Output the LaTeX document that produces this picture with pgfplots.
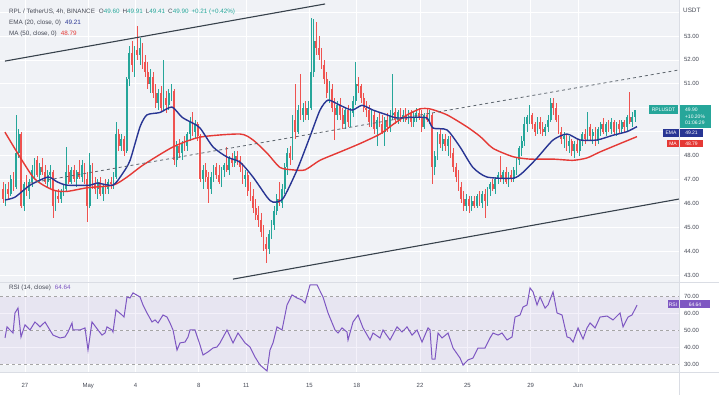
\documentclass[border=0pt]{standalone}
\usepackage{pgfplots}
\usepackage{pgfplotstable}
\pgfplotsset{compat=1.18}
\usepackage{fontspec}
\setmainfont{Liberation Sans}
\definecolor{upc}{RGB}{38,166,154}
\definecolor{dnc}{RGB}{239,83,80}
\definecolor{emac}{RGB}{40,53,147}
\definecolor{mac}{RGB}{229,57,53}
\definecolor{rsic}{RGB}{126,87,194}
\definecolor{bgc}{RGB}{240,242,246}
\definecolor{txtc}{RGB}{70,74,86}
\definecolor{sepc}{RGB}{218,221,228}
\definecolor{chanc}{RGB}{55,65,75}

\pgfplotstableread{
o h l c
46.6 46.9 46.0 46.2
46.2 46.8 45.9 46.6
46.6 46.9 46.2 46.4
46.4 47.2 46.3 47.0
47.0 47.3 46.5 46.7
46.7 49.7 46.6 48.1
48.1 49.1 47.9 48.9
48.9 49.0 45.8 45.9
45.9 46.9 45.7 46.8
46.8 47.2 46.3 46.5
46.5 47.0 46.2 46.9
46.9 47.6 46.7 47.4
47.4 47.9 47.0 47.8
47.8 48.0 47.1 47.2
47.2 47.7 46.9 47.5
47.5 47.9 47.2 47.3
47.3 47.6 46.8 46.9
46.9 47.4 46.7 47.2
47.2 47.6 46.6 47.3
47.3 47.4 45.4 45.9
45.9 46.5 45.7 46.3
46.3 46.6 46.0 46.2
46.2 46.6 46.0 46.5
46.5 46.8 46.3 46.6
46.6 48.35 46.5 47.3
47.3 47.6 46.8 46.9
46.9 47.5 46.8 47.4
47.4 47.6 46.9 47.0
47.0 47.4 46.7 47.3
47.3 47.8 47.0 47.1
47.1 47.8 46.9 47.6
47.6 47.7 46.8 47.0
47.0 47.3 45.2 45.9
45.9 48.1 45.8 47.6
47.6 47.7 46.6 46.8
46.8 47.1 46.4 46.6
46.6 47.0 46.2 46.9
46.9 47.1 46.3 46.4
46.4 46.8 46.1 46.7
46.7 47.0 46.4 46.6
46.6 47.0 46.4 46.9
46.9 47.1 46.6 46.8
46.8 47.3 46.6 47.1
47.1 49.4 47.0 48.9
48.9 49.1 48.2 48.4
48.4 48.9 48.2 48.7
48.7 48.8 48.0 48.2
48.2 51.3 48.1 51.2
51.2 52.6 50.9 52.3
52.3 52.8 51.5 51.8
51.8 52.6 51.3 52.4
52.4 53.4 52.0 52.2
52.2 52.9 51.8 52.5
52.5 52.7 51.6 51.9
51.9 52.2 51.3 51.5
51.5 51.9 50.8 51.0
51.0 51.6 50.6 51.3
51.3 51.5 50.4 50.6
50.6 51.0 50.0 50.2
50.2 50.8 49.9 50.6
50.6 50.9 49.8 50.0
50.0 52.0 49.9 50.4
50.4 50.7 49.8 50.1
50.1 50.8 49.9 50.6
50.6 51.0 50.3 50.7
50.7 50.8 47.6 47.8
47.8 48.6 47.5 48.4
48.4 48.7 47.9 48.1
48.1 48.6 47.8 48.5
48.5 48.8 48.2 48.4
48.4 49.0 48.2 48.9
48.9 49.6 48.6 49.4
49.4 49.8 48.8 49.0
49.0 49.5 48.7 49.3
49.3 49.4 48.6 48.8
48.8 48.9 46.9 47.0
47.0 47.6 46.6 47.4
47.4 47.7 46.9 47.1
47.1 47.3 46.0 46.6
46.6 47.3 46.4 47.1
47.1 47.6 46.9 47.5
47.5 47.7 47.0 47.2
47.2 47.6 46.8 46.9
46.9 47.5 46.7 47.4
47.4 47.7 47.1 47.6
47.6 48.35 47.3 47.4
47.4 48.0 47.2 47.9
47.9 48.1 47.5 47.7
47.7 48.2 47.5 48.0
48.0 48.2 47.6 47.8
47.8 48.0 47.3 47.5
47.5 47.7 46.8 47.0
47.0 47.4 46.7 47.2
47.2 47.3 46.3 46.5
46.5 46.9 46.1 46.3
46.3 46.6 45.6 45.8
45.8 46.2 45.3 45.5
45.5 45.9 45.0 45.3
45.3 45.6 44.6 44.8
44.8 45.1 44.0 44.3
44.3 44.6 43.5 44.1
44.1 44.9 43.9 44.7
44.7 45.3 44.5 45.1
45.1 45.9 44.9 45.7
45.7 46.4 45.5 46.2
46.2 46.9 45.9 46.0
46.0 46.8 45.8 46.6
46.6 47.7 46.4 47.5
47.5 48.3 47.2 48.1
48.1 48.4 47.6 47.9
47.9 49.7 47.8 49.5
49.5 51.0 48.7 49.0
49.0 50.1 48.9 49.9
49.9 51.4 49.5 49.7
49.7 50.2 49.4 50.0
50.0 50.3 49.5 49.7
49.7 50.3 49.5 50.0
50.0 53.75 49.9 51.5
51.5 53.7 51.3 52.8
52.8 53.6 52.2 52.5
52.5 53.0 52.0 52.2
52.2 52.5 51.6 51.8
51.8 52.0 51.0 51.2
51.2 51.5 50.4 50.6
50.6 51.1 50.2 50.8
50.8 51.0 49.8 50.0
50.0 50.4 48.65 49.7
49.7 50.3 49.5 50.1
50.1 50.4 49.5 49.7
49.7 50.0 49.1 49.3
49.3 50.0 49.1 49.9
49.9 50.1 49.2 49.4
49.4 50.0 49.2 49.8
49.8 50.5 49.6 50.3
50.3 51.9 50.1 51.0
51.0 51.3 50.6 50.9
50.9 51.0 50.2 50.4
50.4 50.6 49.8 50.0
50.0 50.3 49.6 49.9
49.9 50.1 49.2 49.4
49.4 49.9 49.2 49.7
49.7 49.9 48.9 49.1
49.1 49.6 48.4 49.5
49.5 49.8 49.2 49.3
49.3 49.7 48.9 49.0
49.0 49.6 48.4 49.5
49.5 49.8 49.0 49.2
49.2 49.9 49.0 49.7
49.7 51.4 49.5 49.8
49.8 50.0 49.3 49.5
49.5 49.9 49.3 49.8
49.8 50.0 49.4 49.6
49.6 49.9 49.4 49.7
49.7 50.0 49.4 49.5
49.5 49.9 49.3 49.8
49.8 49.9 49.2 49.4
49.4 49.8 49.2 49.6
49.6 50.0 49.4 49.8
49.8 50.0 49.5 49.6
49.6 49.9 49.0 49.2
49.2 49.8 49.1 49.7
49.7 50.0 49.4 49.5
49.5 49.9 49.3 49.7
49.7 49.8 46.8 47.5
47.5 48.2 47.2 48.0
48.0 49.0 47.8 48.9
48.9 49.1 48.3 48.5
48.5 48.9 48.2 48.7
48.7 48.9 48.2 48.4
48.4 48.8 48.0 48.7
48.7 48.8 47.9 48.1
48.1 48.3 47.3 47.5
47.5 47.7 46.9 47.1
47.1 47.4 46.5 46.7
46.7 46.9 46.0 46.2
46.2 46.5 45.7 45.9
45.9 46.4 45.7 46.2
46.2 46.3 45.6 45.9
45.9 46.3 45.7 46.1
46.1 46.3 45.8 45.9
45.9 46.4 45.8 46.3
46.3 46.5 45.9 46.0
46.0 46.5 45.8 46.4
46.4 46.6 45.4 46.1
46.1 46.7 45.9 46.6
46.6 46.9 46.3 46.8
46.8 47.0 46.5 46.6
46.6 47.1 46.4 47.0
47.0 47.3 46.8 47.2
47.2 48.0 46.9 47.0
47.0 47.4 46.8 47.3
47.3 47.5 46.8 46.9
46.9 47.3 46.7 47.2
47.2 47.4 46.9 47.0
47.0 47.5 46.9 47.4
47.4 47.9 47.2 47.8
47.8 48.4 47.6 48.3
48.3 48.8 48.0 48.6
48.6 49.6 48.4 49.3
49.3 49.7 49.0 49.6
49.6 50.1 49.3 49.7
49.7 49.8 49.1 49.3
49.3 49.4 48.8 49.0
49.0 49.6 48.9 49.4
49.4 49.6 48.9 49.1
49.1 49.4 48.8 49.0
49.0 49.3 48.8 49.2
49.2 49.7 49.0 49.5
49.5 50.4 49.4 50.2
50.2 50.4 49.7 50.0
50.0 50.2 49.4 49.5
49.5 49.7 48.9 49.0
49.0 49.2 48.5 48.7
48.7 49.0 48.3 48.8
48.8 48.9 48.2 48.4
48.4 48.8 48.1 48.6
48.6 48.7 48.0 48.2
48.2 48.6 47.9 48.5
48.5 48.7 48.1 48.2
48.2 48.7 48.0 48.6
48.6 49.0 48.4 48.9
48.9 49.1 48.5 48.7
48.7 49.8 48.6 49.2
49.2 49.3 48.6 48.8
48.8 49.1 48.5 49.0
49.0 49.2 48.4 48.6
48.6 49.2 48.5 49.1
49.1 49.4 48.8 49.3
49.3 49.55 48.9 49.0
49.0 49.4 48.8 49.3
49.3 49.5 49.0 49.1
49.1 49.55 48.9 49.4
49.4 49.5 48.9 49.0
49.0 49.4 48.8 49.3
49.3 49.5 48.9 49.1
49.1 49.5 48.9 49.4
49.4 49.5 49.0 49.2
49.2 49.7 49.0 49.6
49.6 50.65 49.3 49.4
49.4 49.8 49.2 49.6
49.6 49.91 49.41 49.90
}\candles
\pgfplotstablecreatecol[create col/expr={\pgfplotstablerow/6-1.4}]{d}{\candles}

\pgfplotstableread{
x r
5 45.3
7 51.8
13 48.2
15 60
18 62.9
21 45.9
25 53
30 50
35 54.7
40 51.8
45 54.7
53 47
60 45.3
65 45.9
68 48.8
72 54.1
73 50
80 50
85 51.2
88 38.2
92 54.7
98 50
102 47
105 48.2
107 51.8
112 50
113 48.8
116 61.8
122 58.8
124 57.6
127 69.4
130 68.8
133 71.8
140 69.4
143 64.7
147 60
152 54.7
155 55.9
158 54.1
163 58.8
167 57.6
170 54.1
173 50
177 38.2
180 42.4
185 42.9
188 45.9
190 50
195 50
200 41.2
203 35.3
208 37.1
213 39.4
217 40
220 42.4
227 50
233 42.4
238 48.2
245 42.4
250 40
255 34.1
260 29.4
267 25.9
270 38.2
273 42.4
277 51.8
282 50
287 64.7
292 70.6
297 68.8
302 67.6
305 65.9
310 76.5
317 76.5
323 69.4
328 60
335 50
338 48.2
342 51.2
347 48.8
348 44.1
353 54.7
358 58.8
363 51.2
370 44.1
373 48.2
380 45.3
383 50
390 44.1
397 51.8
402 48.8
407 51.8
412 47
417 50
422 42.9
428 51.2
430 50
432 32.9
435 32.9
438 48.2
442 45.3
448 48.2
453 39.4
460 33.5
463 29.4
468 32.4
473 33.5
478 39.4
485 39.4
490 45.3
493 48.2
498 47
502 48.2
507 44.1
512 45.9
515 57.6
520 58.8
523 63.5
527 64.7
530 74.7
533 72.4
537 64.7
540 69.4
545 62.9
548 64.7
553 72.4
557 60
562 58.8
567 45.9
570 45.3
573 42.9
578 51.2
583 44.7
587 51.2
590 54.1
595 51.2
600 57.6
607 58.2
613 55.9
620 60
623 51.8
628 57.6
632 58.8
637 64.64
}\rsidata

\pgfplotsset{
  pane/.style={
    scale only axis, anchor=south west, width=679pt,
    xmin=-1.582, xmax=41.39,
    axis background/.style={fill=bgc},
    axis line style={draw=none},
    xtick={0,4,7,11,14,18,21,25,28,32,35},
    major tick length=0pt,
    grid=major, major grid style={draw=white, line width=0.7pt},
    yticklabel pos=right,
    ticklabel style={font=\fontsize{6}{7}\selectfont, text=txtc},
    yticklabel style={anchor=west, xshift=1.5pt, /pgf/number format/.cd, fixed, fixed zerofill, precision=2, assume math mode=true},
  },
  candle up/.style={draw=none, mark=none, restrict expr to domain={\thisrow{c}-\thisrow{o}}{0:100}},
  candle dn/.style={draw=none, mark=none, restrict expr to domain={\thisrow{o}-\thisrow{c}}{0.00001:100}},
}

\begin{document}
\begin{tikzpicture}[x=1pt,y=1pt]
\useasboundingbox (0,0) rectangle (719,395);
\fill[white] (0,0) rectangle (719,395);

\begin{axis}[pane, at={(0pt,113pt)}, height=282pt,
  ymin=42.71, ymax=54.506, ytick={43,44,45,46,47,48,51,52,53}, extra y ticks={49,50,54}, extra y tick labels={},
  xticklabels={}]
% wicks
\addplot[candle up, error bars/.cd, y dir=both, y explicit, error mark=none, error bar style={draw=upc, line width=0.6pt}]
  table[x=d, y expr={(\thisrow{h}+\thisrow{l})/2}, y error expr={(\thisrow{h}-\thisrow{l})/2}] {\candles};
\addplot[candle dn, error bars/.cd, y dir=both, y explicit, error mark=none, error bar style={draw=dnc, line width=0.6pt}]
  table[x=d, y expr={(\thisrow{h}+\thisrow{l})/2}, y error expr={(\thisrow{h}-\thisrow{l})/2}] {\candles};
% bodies
\addplot[candle up, error bars/.cd, y dir=both, y explicit, error mark=none, error bar style={draw=upc, line width=1.8pt}]
  table[x=d, y expr={(\thisrow{o}+\thisrow{c})/2}, y error expr={abs(\thisrow{c}-\thisrow{o})/2}] {\candles};
\addplot[candle dn, error bars/.cd, y dir=both, y explicit, error mark=none, error bar style={draw=dnc, line width=1.8pt}]
  table[x=d, y expr={(\thisrow{o}+\thisrow{c})/2}, y error expr={abs(\thisrow{c}-\thisrow{o})/2}] {\candles};
% MA 50
\addplot[mac, line width=1.4pt, smooth, tension=0.4] coordinates {
(-1.27,48.98) (0.51,47.1) (1.77,46.56) (2.66,46.5) (3.92,46.65) (5.57,46.76) (6.46,47.1) (7.47,47.6)
(9.37,48.36) (11.08,48.77) (13.61,48.9) (14.43,48.65) (15.32,48.1) (16.14,47.5) (16.96,47.4) (17.72,47.4)
(18.67,47.8) (19.94,48.15) (21.2,48.5) (22.47,48.9) (23.29,49.3) (24.18,49.7) (25.0,49.95) (25.63,49.95)
(26.71,49.7) (27.97,49.2) (28.8,48.8) (29.62,48.3) (30.89,47.95) (31.96,47.85) (33.42,47.85) (34.68,47.8)
(35.57,47.9) (36.39,48.15) (37.66,48.5) (38.73,48.79)};
% EMA 20
\addplot[emac, line width=1.4pt, smooth, tension=0.4] coordinates {
(-1.27,46.14) (-0.63,46.26) (0.32,46.76) (1.46,47.1) (2.03,46.9) (2.66,46.76) (4.11,46.76) (4.56,46.85)
(5.57,46.76) (6.2,47.27) (6.65,47.8) (7.28,49.2) (7.72,49.7) (8.54,49.8) (9.3,50.03) (9.94,49.6)
(10.63,49.35) (11.08,49.15) (11.9,48.36) (12.78,47.94) (13.61,47.72) (14.43,47.1) (15.32,46.26) (15.7,46.05)
(16.33,46.2) (17.22,47.4) (18.04,48.8) (18.67,49.9) (19.18,50.32) (19.94,50.1) (20.7,49.9) (21.33,50.1)
(22.03,49.9) (22.91,49.7) (23.54,49.57) (24.56,49.6) (25.44,49.57) (25.82,49.15) (26.71,49.07) (27.53,48.36)
(28.35,47.5) (29.24,47.1) (30.89,47.05) (31.52,47.3) (32.41,47.9) (33.42,48.65) (34.3,48.9) (35.13,48.65)
(36.2,48.65) (37.22,48.85) (38.1,49.0) (38.73,49.21)};
% channel
\addplot[chanc, line width=1.1pt] coordinates {(-1.27,51.95) (18.99,54.34)};
\addplot[chanc, line width=1.1pt] coordinates {(13.16,42.83) (41.39,46.18)};
\addplot[chanc!80, line width=0.8pt, dashed] coordinates {(0.32,46.85) (41.39,51.58)};
\end{axis}

\begin{axis}[pane, at={(0pt,23pt)}, height=90pt,
  ymin=25.3, ymax=78.2, ytick={30,40,50,60,70},
  xticklabels={27,May,4,8,11,15,18,22,25,29,Jun},
  xticklabel style={anchor=base, yshift=-15.5pt}]
\addplot[draw=none, fill=rsic, fill opacity=0.08] coordinates {(-1.582,30) (41.39,30) (41.39,70) (-1.582,70)} -- cycle;
\addplot[gray!70, dashed, line width=0.5pt] coordinates {(-1.582,70) (41.39,70)};
\addplot[gray!70, dashed, line width=0.5pt] coordinates {(-1.582,50) (41.39,50)};
\addplot[gray!70, dashed, line width=0.5pt] coordinates {(-1.582,30) (41.39,30)};
\addplot[rsic, line width=1pt] table[x expr={(\thisrow{x}-25)/15.8}, y=r] {\rsidata};
\end{axis}

% separators
\draw[sepc, line width=0.6pt] (0,113) -- (719,113);
\draw[sepc, line width=0.6pt] (0,23) -- (719,23);
\draw[sepc, line width=0.6pt] (679,0) -- (679,395);

% legends
\begin{scope}[every node/.style={inner sep=0pt, anchor=base west, font=\fontsize{6.3}{7}\selectfont, text=txtc}]
\node at (9,381.5) {RPL / TetherUS, 4h, BINANCE\hspace{4pt}O\textcolor{upc}{49.60}\hspace{3pt}H\textcolor{upc}{49.91}\hspace{3pt}L\textcolor{upc}{49.41}\hspace{3pt}C\textcolor{upc}{49.90}\hspace{3pt}\textcolor{upc}{+0.21 (+0.42\%)}};
\node at (9,370.5) {EMA (20, close, 0)\hspace{4pt}\textcolor{emac}{49.21}};
\node at (9,359.5) {MA (50, close, 0)\hspace{4pt}\textcolor{mac}{48.79}};
\node at (9,105.5) {RSI (14, close)\hspace{4pt}\textcolor{rsic}{64.64}};
\node at (683,382) {USDT};
\end{scope}

% price tags
\begin{scope}[every node/.style={inner sep=0pt, text=white, font=\fontsize{5}{6.3}\selectfont}]
\node[fill=upc, minimum width=29pt, minimum height=9pt] at (663.5,285.5) {RPLUSDT};
\node[fill=upc, minimum width=31pt, minimum height=23pt, align=left] at (695,278.5) {49.90\\+10.20\%\\01:06:29};
\node[fill=emac, minimum width=16pt, minimum height=7.5pt] at (671,261.8) {EMA};
\node[fill=emac, minimum width=23pt, minimum height=7.5pt] at (691.5,261.8) {49.21};
\node[fill=mac, minimum width=12pt, minimum height=7.5pt] at (673,251.6) {MA};
\node[fill=mac, minimum width=23pt, minimum height=7.5pt] at (691.5,251.6) {48.79};
\node[fill=rsic, minimum width=11pt, minimum height=8pt] at (673,90.5) {RSI};
\node[fill=rsic, minimum width=30pt, minimum height=8pt] at (695,90.5) {64.64};
\end{scope}
\end{tikzpicture}
\end{document}
